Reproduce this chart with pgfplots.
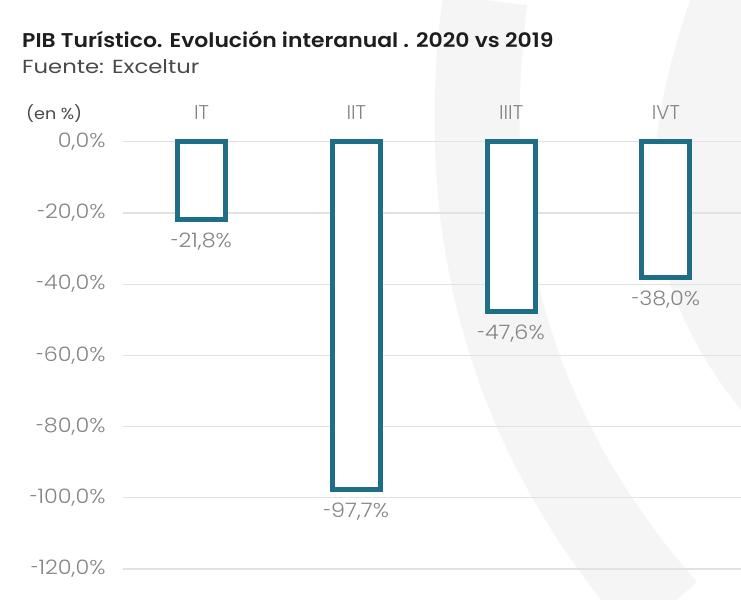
\documentclass[border=0pt]{standalone}
\usepackage{fontspec}
\setmainfont{Poppins}
\newfontfamily\lightf{Poppins Light}
\newfontfamily\semif{Poppins SemiBold}
\usepackage{pgfplots}
\pgfplotsset{compat=1.18}
\definecolor{barteal}{HTML}{1D6E86}
\definecolor{gridg}{HTML}{E2E2E2}
\definecolor{tickg}{HTML}{858585}
\definecolor{titlek}{HTML}{1E1E1E}
\definecolor{srcg}{HTML}{4A4A4A}
\definecolor{wmark}{HTML}{F5F5F5}
\newcommand{\lbl}[1]{\scalebox{1.12}[1]{#1}}
\newcommand{\hy}{\scalebox{0.65}[1]{-}}

\begin{document}
\begin{tikzpicture}[x=1bp,y=1bp]
\path[use as bounding box] (0,0) rectangle (741,600);
\fill[white] (0,0) rectangle (741,600);
% faint watermark behind the chart
\draw[wmark, line width=85bp, line cap=butt] (485,600) .. controls (462,420) and (480,200) .. (665,-10);
\fill[wmark] (741,600) -- (690,600) .. controls (640,450) and (630,330) .. (741,190) -- cycle;

\node[anchor=base west, font=\semif\fontsize{20}{24}\selectfont, text=titlek, inner sep=0] at (22,552)
  {\scalebox{1.1}[1]{PIB Turístico. Evolución interanual . 2020 vs 2019}};
\node[anchor=base west, font=\fontsize{19}{22}\selectfont, text=srcg, inner sep=0] at (22,526)
  {\scalebox{1.2}[1]{Fuente: Exceltur}};
\node[anchor=base west, font=\fontsize{16}{19}\selectfont, text=srcg, inner sep=0] at (26,480)
  {\scalebox{1.1}[1]{(en \%)}};

\begin{axis}[
  at={(123bp,31bp)}, anchor=south west,
  scale only axis, width=618bp, height=427.3bp,
  xmin=-0.507, xmax=3.485, ymin=-120, ymax=0,
  axis line style={draw=none}, tick style={draw=none},
  ymajorgrids, grid style={gridg, line width=1.2pt},
  ytick={0,-20,-40,-60,-80,-100,-120},
  yticklabel={\pgfmathparse{abs(\tick)}\lbl{\ifdim\tick pt<0pt\hy\fi\pgfmathprintnumber[fixed,fixed zerofill,precision=1,use comma]{\pgfmathresult}\%}},
  yticklabel style={font=\lightf\fontsize{20}{24}\selectfont, text=tickg, xshift=-14bp},
  xtick={0,1,2,3}, xticklabels={IT,IIT,IIIT,IVT},
  xticklabel pos=right,
  xticklabel style={font=\lightf\fontsize{20}{24}\selectfont, text=tickg, yshift=14bp},
  /pgf/number format/assume math mode=true,
  ybar, bar width=48bp, bar shift=0pt,
  point meta=explicit,
  nodes near coords={\lbl{\hy\pgfmathprintnumber[fixed,fixed zerofill,precision=1,use comma]{\pgfplotspointmeta}\%}},
  nodes near coords style={font=\lightf\fontsize{20}{24}\selectfont, text=tickg, anchor=north, yshift=-8bp},
  clip=false,
]
% meta = size of the fall, printed with a hyphen in front
\addplot[draw=barteal, fill=white, line width=5bp] coordinates {(0,-21.8) [21.8] (1,-97.7) [97.7] (2,-47.6) [47.6] (3,-38.0) [38.0]};
\end{axis}
\end{tikzpicture}
\end{document}
